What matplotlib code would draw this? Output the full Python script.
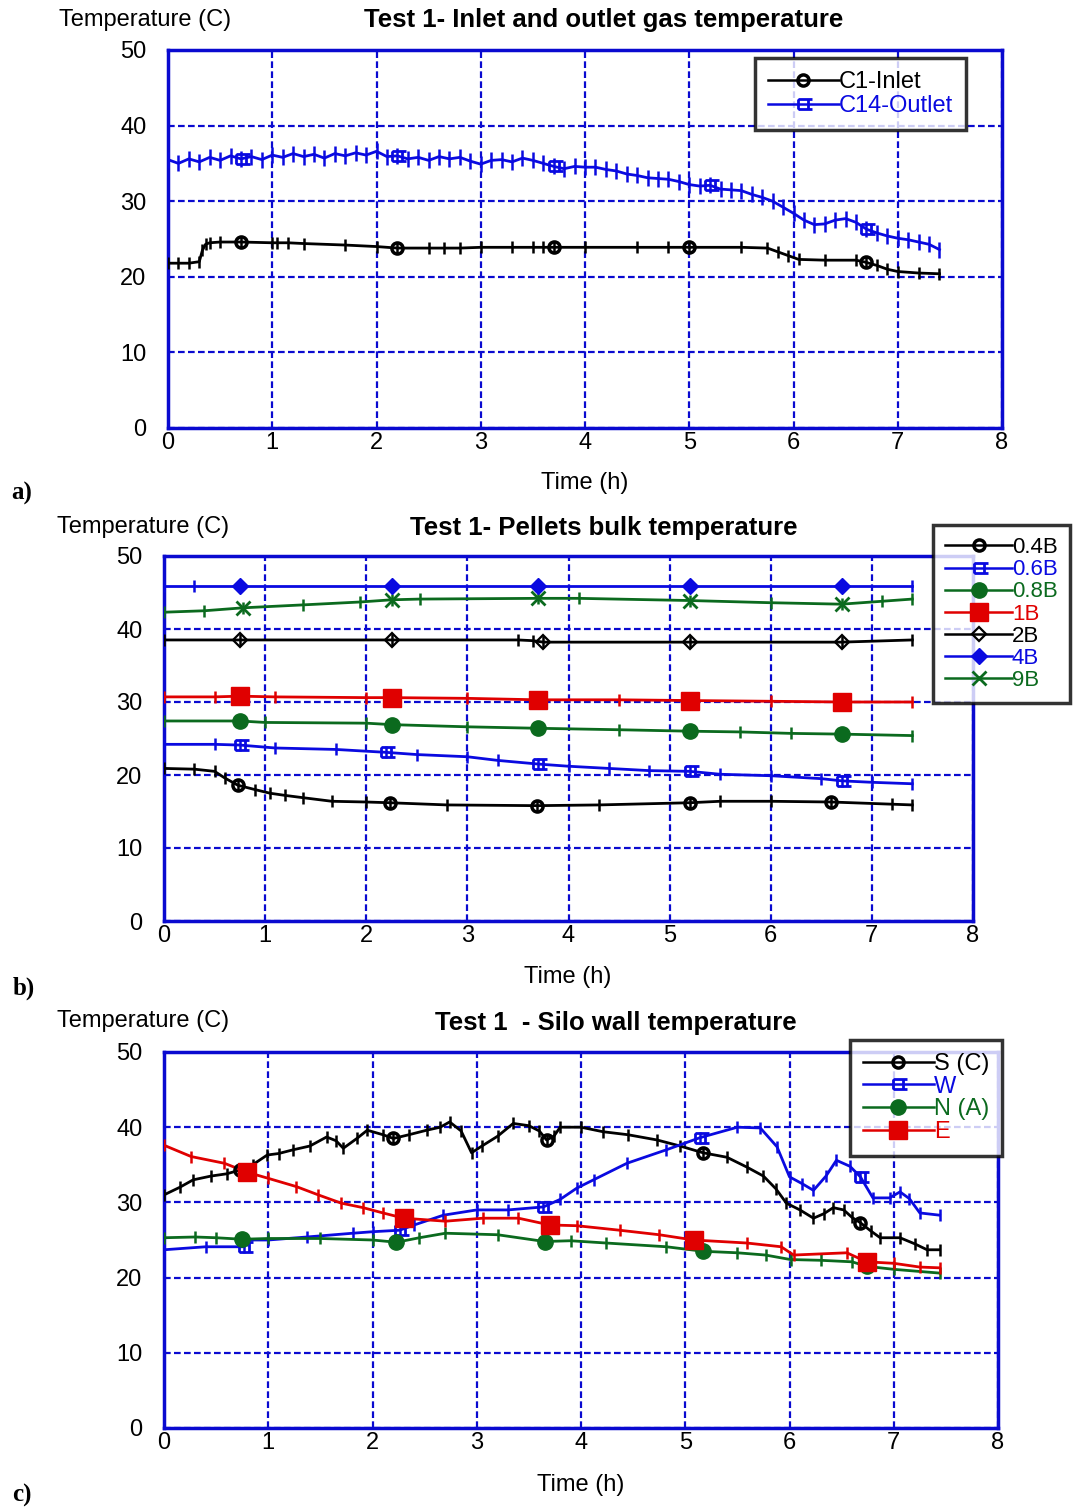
"""
Test 1 temperatures: gas inlet/outlet, pellet bulk, silo wall.
Three stacked panels, saved as out.png.
"""

import matplotlib.pyplot as plt
import numpy as np
from matplotlib.lines import Line2D
from matplotlib.path import Path

BLUE = "#0a0ae0"
GREEN = "#0b6a1e"
RED = "#e00000"
BLACK = "#000000"
GRID = "#0a0ad0"

MARK_T = [0.75, 2.25, 3.7, 5.2, 6.7]

# ---- panel a: gas temperature ----
A_IN_T = [0, 0.1, 0.2, 0.3, 0.33, 0.36, 0.4, 0.5, 0.7, 1.0, 1.05, 1.15, 1.3, 1.7, 2.0,
          2.2, 2.5, 2.65, 2.8, 3.0, 3.3, 3.5, 3.6, 3.7, 4.0, 4.5, 4.8, 5.0, 5.5, 5.75,
          5.85, 5.95, 6.05, 6.3, 6.6, 6.7, 6.8, 6.9, 7.0, 7.2, 7.4]
A_IN_V = [21.8, 21.8, 21.8, 22.0, 23.5, 24.3, 24.5, 24.6, 24.6, 24.5, 24.5, 24.5, 24.4,
          24.2, 24.0, 23.8, 23.8, 23.8, 23.8, 23.9, 23.9, 23.9, 23.9, 23.9, 23.9, 23.9,
          23.9, 23.9, 23.9, 23.8, 23.3, 22.8, 22.3, 22.2, 22.2, 21.9, 21.5, 21.0, 20.7,
          20.5, 20.4]
A_OUT_V = [35.5, 35.0, 35.6, 35.2, 35.8, 35.4, 36.0, 35.6, 35.9, 35.5,
           36.1, 35.8, 36.3, 35.9, 36.2, 35.7, 36.3, 36.0, 36.4, 36.1,
           36.6, 35.9, 36.0, 35.6, 35.8, 35.4, 35.9, 35.6, 35.8, 35.3,
           34.9, 35.4, 35.5, 35.2, 35.7, 35.4, 35.0, 34.6, 34.3, 34.6,
           34.5, 34.5, 34.2, 34.0, 33.6, 33.4, 33.1, 33.0, 32.9, 32.6,
           32.2, 32.0, 32.1, 31.6, 31.5, 31.4, 30.9, 30.5, 30.0, 29.2,
           28.4, 27.5, 26.9, 27.0, 27.5, 27.7, 27.2, 26.3, 25.8, 25.4,
           25.1, 24.9, 24.6, 24.3, 23.6]
A_OUT_T = list(np.round(np.arange(len(A_OUT_V)) * 0.1, 2))

# ---- panel b: pellet bulk temperature ----
B04_T = [0, 0.3, 0.5, 0.6, 0.73, 0.9, 1.05, 1.2, 1.37, 1.66, 2.0, 2.23, 2.8, 3.69, 4.3,
         5.2, 5.5, 6.0, 6.6, 7.2, 7.4]
B04_V = [20.9, 20.8, 20.5, 19.6, 18.6, 18.0, 17.5, 17.2, 16.9, 16.4, 16.3, 16.2, 15.9,
         15.8, 15.9, 16.2, 16.4, 16.4, 16.3, 16.0, 15.9]
B06_T = [0, 0.5, 0.75, 1.1, 1.7, 2.2, 2.5, 3.0, 3.3, 3.7, 4.0, 4.4, 4.8, 5.2, 5.5, 6.0,
         6.5, 6.7, 7.0, 7.4]
B06_V = [24.2, 24.2, 24.1, 23.7, 23.5, 23.1, 22.8, 22.5, 22.0, 21.5, 21.2, 20.9, 20.6,
         20.5, 20.1, 19.9, 19.5, 19.2, 19.0, 18.8]
B08_T = [0, 0.75, 1.0, 2.0, 2.25, 3.0, 3.7, 4.5, 5.2, 5.7, 6.2, 6.7, 7.4]
B08_V = [27.4, 27.4, 27.2, 27.1, 26.9, 26.6, 26.4, 26.2, 26.0, 25.9, 25.7, 25.6, 25.4]
B1_T = [0, 0.5, 0.75, 1.1, 2.0, 2.25, 3.0, 3.7, 4.5, 5.2, 6.0, 6.7, 7.4]
B1_V = [30.7, 30.7, 30.8, 30.7, 30.6, 30.6, 30.5, 30.3, 30.3, 30.2, 30.1, 30.0, 30.0]
B2_T = [0, 0.75, 2.25, 3.5, 3.65, 3.75, 5.2, 6.7, 7.4]
B2_V = [38.5, 38.5, 38.5, 38.5, 38.4, 38.2, 38.2, 38.2, 38.5]
B4_T = [0, 0.3, 0.75, 2.25, 3.7, 5.2, 6.7, 7.4]
B4_V = [45.9, 45.9, 45.9, 45.9, 45.9, 45.9, 45.9, 45.9]
B9_T = [0, 0.4, 0.78, 1.37, 1.94, 2.25, 2.53, 3.7, 4.1, 5.2, 6.0, 6.7, 7.1, 7.4]
B9_V = [42.3, 42.5, 42.9, 43.3, 43.7, 44.0, 44.1, 44.2, 44.2, 43.9, 43.6, 43.4, 43.8, 44.1]

# ---- panel c: silo wall temperature ----
CS_T = [0, 0.15, 0.28, 0.45, 0.6, 0.73, 0.85, 0.99, 1.1, 1.24, 1.4, 1.56, 1.65, 1.72,
        1.85, 1.95, 2.1, 2.2, 2.35, 2.52, 2.65, 2.74, 2.85, 2.95, 3.05, 3.2, 3.35, 3.5,
        3.6, 3.67, 3.74, 3.8, 4.0, 4.21, 4.45, 4.73, 4.95, 5.17, 5.4, 5.59, 5.75, 5.87,
        5.97, 6.1, 6.23, 6.33, 6.42, 6.52, 6.6, 6.68, 6.78, 6.87, 7.06, 7.2, 7.32, 7.44]
CS_V = [31.0, 32.0, 33.0, 33.5, 33.8, 34.3, 35.0, 36.3, 36.5, 37.0, 37.5, 38.7, 38.2,
        37.2, 38.5, 39.6, 39.0, 38.5, 39.0, 39.6, 40.0, 40.7, 39.5, 36.6, 37.5, 38.8,
        40.5, 40.2, 39.5, 38.3, 38.8, 40.0, 40.0, 39.4, 39.0, 38.3, 37.5, 36.6, 36.0,
        34.7, 33.5, 31.8, 29.9, 29.0, 27.9, 28.5, 29.3, 29.0, 28.0, 27.3, 26.2, 25.3,
        25.3, 24.5, 23.7, 23.7]
CW_T = [0, 0.4, 0.77, 0.8, 1.0, 1.37, 1.81, 2.0, 2.26, 2.4, 2.68, 3.0, 3.3, 3.64, 3.8,
        3.96, 4.12, 4.44, 4.82, 5.14, 5.5, 5.72, 5.88, 6.0, 6.12, 6.23, 6.35, 6.45,
        6.58, 6.68, 6.8, 6.96, 7.06, 7.15, 7.25, 7.44]
CW_V = [23.7, 24.1, 24.1, 25.0, 25.0, 25.4, 25.9, 26.1, 26.3, 27.0, 28.3, 29.0, 29.0,
        29.4, 30.4, 31.9, 33.0, 35.2, 37.0, 38.6, 40.0, 39.9, 37.4, 33.4, 32.5, 31.6,
        33.5, 35.6, 34.8, 33.4, 30.6, 30.6, 31.4, 30.5, 28.6, 28.3]
CN_T = [0, 0.3, 0.5, 0.75, 1.0, 1.5, 2.0, 2.23, 2.45, 2.7, 3.2, 3.65, 3.9, 4.24, 4.82,
        5.17, 5.5, 5.77, 6.01, 6.3, 6.6, 6.74, 7.0, 7.44]
CN_V = [25.3, 25.4, 25.3, 25.1, 25.2, 25.2, 25.0, 24.7, 25.3, 25.9, 25.7, 24.8, 24.9,
        24.6, 24.1, 23.5, 23.3, 23.0, 22.4, 22.3, 22.1, 21.5, 21.1, 20.6]
CE_T = [0, 0.26, 0.58, 0.8, 1.0, 1.27, 1.48, 1.7, 1.91, 2.1, 2.3, 2.7, 3.06, 3.4, 3.7,
        3.96, 4.37, 4.75, 5.08, 5.59, 5.92, 6.04, 6.55, 6.74, 7.0, 7.25, 7.44]
CE_V = [37.6, 36.1, 35.2, 34.0, 33.2, 32.1, 31.0, 29.9, 29.3, 28.6, 27.9, 27.5, 27.9,
        27.9, 27.0, 26.9, 26.3, 25.7, 25.0, 24.6, 24.1, 23.0, 23.3, 22.1, 21.9, 21.4,
        21.3]

# bracket-like marker used by the blue series
BRACKET = Path(
    [(-0.5, -0.55), (-0.5, 0.55), (0.5, -0.55), (0.5, 0.55),
     (-0.5, 0.55), (1.0, 0.55), (-0.5, -0.55), (1.0, -0.55)],
    [Path.MOVETO, Path.LINETO] * 4,
)

STYLES = {
    "circle_open": dict(marker="o", ms=8, mfc="none", mew=2.5),
    "bracket": dict(marker=BRACKET, ms=13, mfc="none", mew=2),
    "circle_full": dict(marker="o", ms=11, mew=1),
    "square": dict(marker="s", ms=13, mew=1),
    "diamond_open": dict(marker="D", ms=7, mfc="none", mew=1.6),
    "diamond_full": dict(marker="D", ms=8, mew=1),
    "x": dict(marker="x", ms=10, mew=2),
}

plt.rcParams["font.family"] = ["Liberation Sans", "DejaVu Sans"]
fig = plt.figure(figsize=(10.79, 15.08), dpi=100)
W, H = 1079, 1508


def px_axes(x0, x1, ytop, ybot):
    return fig.add_axes([x0 / W, 1 - ybot / H, (x1 - x0) / W, (ybot - ytop) / H])


def series(ax, t, v, color, style, tick_ms=8):
    t = np.asarray(t)
    idx = [int(np.argmin(np.abs(t - m))) for m in MARK_T]
    ax.plot(t, v, color=color, lw=2.0, marker="|", ms=tick_ms, mew=1.8, zorder=3)
    ax.plot(t, v, color=color, lw=0, markevery=idx, mec=color, mfc=STYLES[style].get("mfc", color),
            **{k: s for k, s in STYLES[style].items() if k != "mfc"}, zorder=4)


def proxy(color, style):
    st = dict(STYLES[style])
    mfc = st.pop("mfc", color)
    return Line2D([0], [0], color=color, lw=1.8, mec=color, mfc=mfc, **st)


def frame(ax, xmax):
    ax.set_xlim(0, xmax)
    ax.set_ylim(0, 50)
    ax.set_xticks(range(0, 9))
    ax.set_yticks(range(0, 51, 10))
    ax.grid(True, color=GRID, ls=(0, (3, 1.5)), lw=1.6)
    for sp in ax.spines.values():
        sp.set_color(GRID)
        sp.set_linewidth(2.5)
    ax.tick_params(length=0, labelsize=17)
    ax.tick_params(axis="y", pad=15.5)
    ax.tick_params(axis="x", pad=3)


def add_legend(handles, labels, colors, x, y, fs, spacing):
    leg = fig.legend(handles, labels, loc="upper left", bbox_to_anchor=(x / W, 1 - y / H),
                     frameon=True, fancybox=False, fontsize=fs, labelcolor=colors,
                     handlelength=3.0, handletextpad=0.0, labelspacing=spacing,
                     borderpad=0.55, borderaxespad=0, numpoints=1)
    leg.get_frame().set_edgecolor("black")
    leg.get_frame().set_linewidth(2.5)


# panel a
ax_a = px_axes(168, 1002, 50, 428)
frame(ax_a, 8)
series(ax_a, A_IN_T, A_IN_V, BLACK, "circle_open")
series(ax_a, A_OUT_T, A_OUT_V, BLUE, "bracket", tick_ms=11)
add_legend([proxy(BLACK, "circle_open"), proxy(BLUE, "bracket")],
           ["C1-Inlet", "C14-Outlet"], [BLACK, BLUE], 755, 58, 17, 0.1)

# panel b
ax_b = px_axes(164, 973, 556, 921)
frame(ax_b, 8)
b_series = [
    ("0.4B", B04_T, B04_V, BLACK, "circle_open"),
    ("0.6B", B06_T, B06_V, BLUE, "bracket"),
    ("0.8B", B08_T, B08_V, GREEN, "circle_full"),
    ("1B", B1_T, B1_V, RED, "square"),
    ("2B", B2_T, B2_V, BLACK, "diamond_open"),
    ("4B", B4_T, B4_V, BLUE, "diamond_full"),
    ("9B", B9_T, B9_V, GREEN, "x"),
]
for name, t, v, c, s in b_series:
    series(ax_b, t, v, c, s)
add_legend([proxy(c, s) for _, _, _, c, s in b_series], [n for n, *_ in b_series],
           [c for *_, c, _ in b_series], 933, 525, 16, 0.05)

# panel c
ax_c = px_axes(164, 998, 1052, 1428)
frame(ax_c, 8)
c_series = [
    ("S (C)", CS_T, CS_V, BLACK, "circle_open"),
    ("W", CW_T, CW_V, BLUE, "bracket"),
    ("N (A)", CN_T, CN_V, GREEN, "circle_full"),
    ("E", CE_T, CE_V, RED, "square"),
]
for name, t, v, c, s in c_series:
    series(ax_c, t, v, c, s)
add_legend([proxy(c, s) for _, _, _, c, s in c_series], [n for n, *_ in c_series],
           [c for *_, c, _ in c_series], 850, 1040, 17, 0.03)

# titles, axis labels, panel letters
for title, tx, ty in [("Test 1- Inlet and outlet gas temperature", 604, 20),
                      ("Test 1- Pellets bulk temperature", 604, 528),
                      ("Test 1  - Silo wall temperature", 616, 1023)]:
    fig.text(tx / W, 1 - ty / H, title, ha="center", va="center", fontsize=18.5,
             fontweight="bold")
for yx, yy in [(145, 20), (143, 527), (143, 1021)]:
    fig.text(yx / W, 1 - yy / H, "Temperature (C)", ha="center", va="center", fontsize=17)
for xx, xy in [(585, 483), (568, 977), (581, 1485)]:
    fig.text(xx / W, 1 - xy / H, "Time (h)", ha="center", va="center", fontsize=17)
for lab, lx, ly in [("a)", 22, 493), ("b)", 24, 988), ("c)", 22, 1495)]:
    fig.text(lx / W, 1 - ly / H, lab, ha="center", va="center", fontsize=18,
             fontweight="bold", family="Liberation Serif")

fig.savefig("out.png", dpi=100)
